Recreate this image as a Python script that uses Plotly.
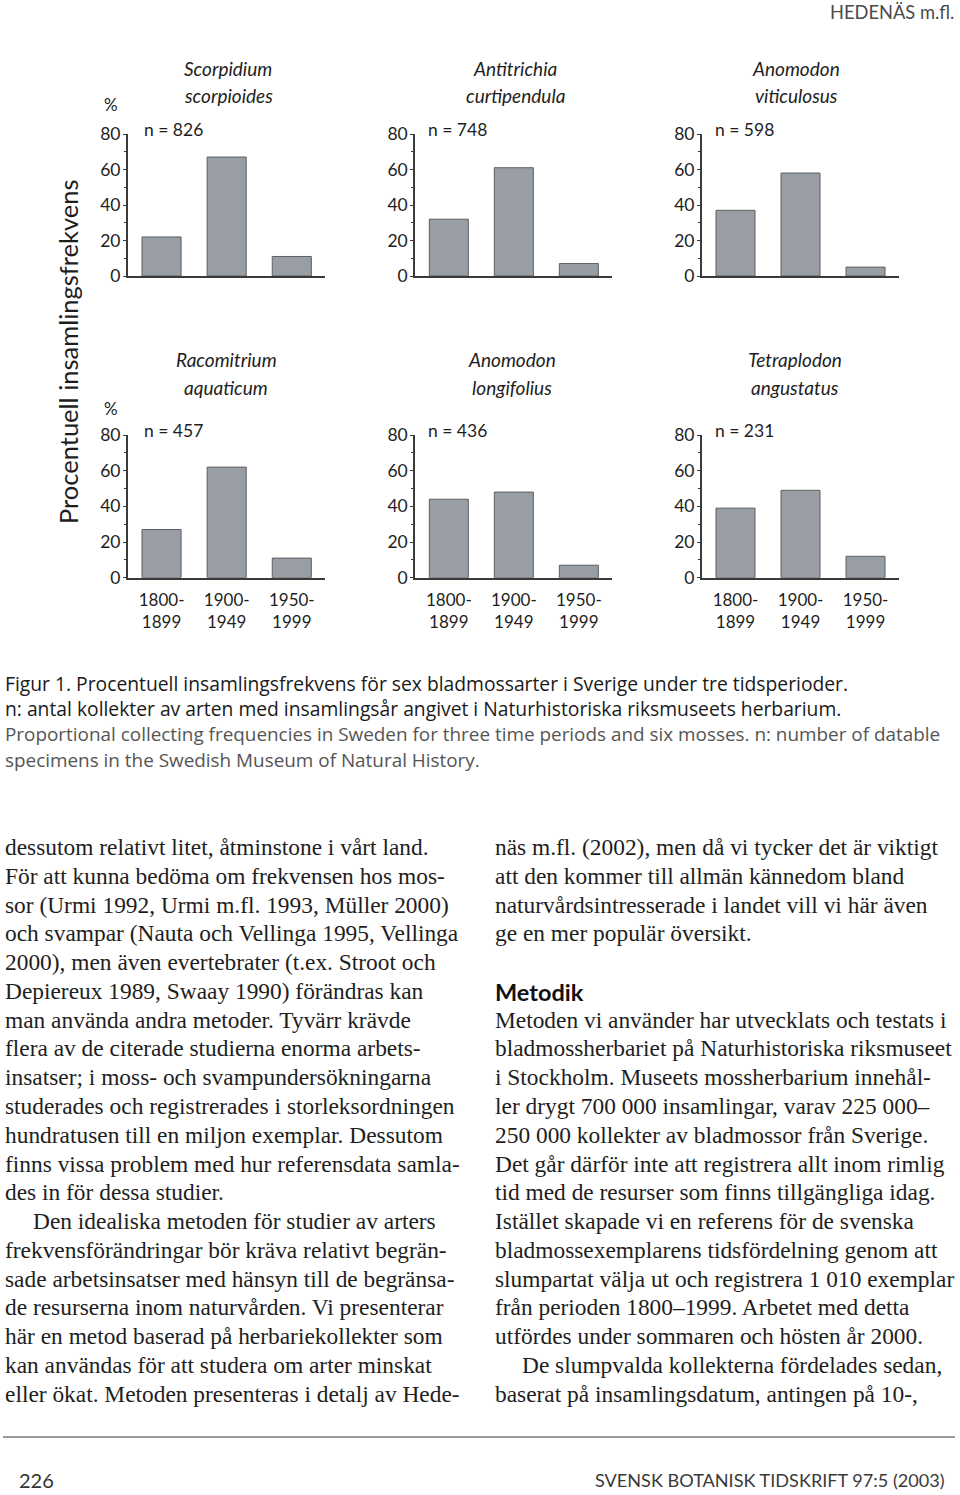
import plotly.graph_objects as go

# ---------------- data ----------------
periods = ["1800-1899", "1900-1949", "1950-1999"]
period_labels = ["1800-<br>1899", "1900-<br>1949", "1950-<br>1999"]

species_genus = ["Scorpidium", "Antitrichia", "Anomodon",
                 "Racomitrium", "Anomodon", "Tetraplodon"]
species_epithet = ["scorpioides", "curtipendula", "viticulosus",
                   "aquaticum", "longifolius", "angustatus"]
n_values = [826, 748, 598, 457, 436, 231]

pct_scorpidium = [22, 67, 11]
pct_antitrichia = [32, 61, 7]
pct_viticulosus = [37, 58, 5]
pct_racomitrium = [27, 62, 11]
pct_longifolius = [44, 48, 7]
pct_tetraplodon = [39, 49, 12]
panel_values = [pct_scorpidium, pct_antitrichia, pct_viticulosus,
                pct_racomitrium, pct_longifolius, pct_tetraplodon]

y_ticks = [0, 20, 40, 60, 80]

# ---------------- page geometry ----------------
W, H = 960, 1495
col_x = [(127.7, 325.0), (415.0, 612.0), (701.7, 898.7)]
row_y = [(276.0, 134.0), (577.7, 435.0)]  # (y of 0, y of 80) in pixels
title_cx = [[228, 515, 796], [226, 512, 795]]
title_y = [(68, 96), (359, 387)]
n_x = [143, 427, 714]
n_y = [130, 430]
pct_sign_y = [105, 408]

SANS = "Lato, 'Open Sans', sans-serif"
CAP = "'Open Sans', Lato, sans-serif"
SERIF = "'Liberation Serif', 'DejaVu Serif', serif"
INK = "#1e1e1e"


def px(x):
    return x / W


def py(y):
    return 1 - y / H


fig = go.Figure()
annotations = []


def ann(x, y, text, size, color=INK, family=SANS, xanchor="left",
        yanchor="middle", textangle=0):
    annotations.append(dict(
        x=px(x), y=py(y), xref="paper", yref="paper", text=text,
        showarrow=False, xanchor=xanchor, yanchor=yanchor,
        font=dict(size=size, color=color, family=family),
        textangle=textangle, borderpad=0))


for i, vals in enumerate(panel_values):
    r, c = divmod(i, 3)
    k = i + 1
    xa = "x" if k == 1 else f"x{k}"
    ya = "y" if k == 1 else f"y{k}"
    fig.add_trace(go.Bar(
        x=periods, y=vals, xaxis=xa, yaxis=ya, width=0.6,
        marker=dict(color="#999ea5", line=dict(color="#5c5f63", width=1)),
        showlegend=False, hoverinfo="skip"))
    x0, x1 = col_x[c]
    y0, y80 = row_y[r]
    xkey = "xaxis" if k == 1 else f"xaxis{k}"
    ykey = "yaxis" if k == 1 else f"yaxis{k}"
    fig.update_layout(**{
        xkey: dict(
            domain=[px(x0), px(x1)], anchor=ya, type="category",
            categoryorder="array", categoryarray=periods,
            range=[-0.52, 2.51], showgrid=False, zeroline=False,
            showline=True, linecolor="#3a3a3a", linewidth=1.5,
            ticks="", tickmode="array", tickvals=periods,
            ticktext=period_labels, showticklabels=(r == 1),
            ticklabelstandoff=6,
            tickfont=dict(size=17, color=INK, family=SANS),
            automargin=False, fixedrange=True),
        ykey: dict(
            domain=[py(y0), py(y80)], anchor=xa, range=[0, 80],
            showgrid=False, zeroline=False, showline=True,
            linecolor="#3a3a3a", linewidth=1.5,
            tickmode="array", tickvals=y_ticks, ticks="outside",
            ticklen=3, tickwidth=1.2, tickcolor="#3a3a3a",
            minor=dict(dtick=10, tick0=0, ticks="outside", ticklen=2,
                       tickwidth=1, tickcolor="#3a3a3a"),
            ticklabelstandoff=-1,
            tickfont=dict(size=17.5, color=INK, family=SANS),
            automargin=False, fixedrange=True),
    })
    # species title
    cx = title_cx[r][c]
    ann(cx, title_y[r][0], f"<i>{species_genus[i]}</i>", 19, xanchor="center")
    ann(cx, title_y[r][1], f"<i>{species_epithet[i]}</i>", 19, xanchor="center")
    # sample size
    ann(n_x[c], n_y[r], f"n = {n_values[i]}", 17.5)
    if c == 0:
        ann(103, pct_sign_y[r], "%", 17)

# y-axis title of the whole figure
ann(68, 352, "Procentuell insamlingsfrekvens", 25.5, textangle=-90,
    xanchor="center")

# header
ann(955, 12, "HEDENÄS m.fl.", 18.3, color="#4a4a4a", xanchor="right")

# caption
caption_dark = [
    "Figur 1. Procentuell insamlingsfrekvens för sex bladmossarter i Sverige under tre tidsperioder.",
    "n: antal kollekter av arten med insamlingsår angivet i Naturhistoriska riksmuseets herbarium.",
]
caption_light = [
    "Proportional collecting frequencies in Sweden for three time periods and six mosses. n: number of datable",
    "specimens in the Swedish Museum of Natural History.",
]
for j, line in enumerate(caption_dark):
    ann(4, 683 + 25.5 * j, line, 19.3, color="#1a1a1a", family=CAP)
for j, line in enumerate(caption_light):
    ann(4, 734 + 25.5 * j, line, 18.9, color="#555555", family=CAP)

# body text
left_col = [
    "dessutom relativt litet, åtminstone i vårt land.",
    "För att kunna bedöma om frekvensen hos mos-",
    "sor (Urmi 1992, Urmi m.fl. 1993, Müller 2000)",
    "och svampar (Nauta och Vellinga 1995, Vellinga",
    "2000), men även evertebrater (t.ex. Stroot och",
    "Depiereux 1989, Swaay 1990) förändras kan",
    "man använda andra metoder. Tyvärr krävde",
    "flera av de citerade studierna enorma arbets-",
    "insatser; i moss- och svampundersökningarna",
    "studerades och registrerades i storleksordningen",
    "hundratusen till en miljon exemplar. Dessutom",
    "finns vissa problem med hur referensdata samla-",
    "des in för dessa studier.",
    "Den idealiska metoden för studier av arters",
    "frekvensförändringar bör kräva relativt begrän-",
    "sade arbetsinsatser med hänsyn till de begränsa-",
    "de resurserna inom naturvården. Vi presenterar",
    "här en metod baserad på herbariekollekter som",
    "kan användas för att studera om arter minskat",
    "eller ökat. Metoden presenteras i detalj av Hede-",
]
left_indent = {13}
right_col = [
    "näs m.fl. (2002), men då vi tycker det är viktigt",
    "att den kommer till allmän kännedom bland",
    "naturvårdsintresserade i landet vill vi här även",
    "ge en mer populär översikt.",
    None,
    "Metodik",
    "Metoden vi använder har utvecklats och testats i",
    "bladmossherbariet på Naturhistoriska riksmuseet",
    "i Stockholm. Museets mossherbarium innehål-",
    "ler drygt 700 000 insamlingar, varav 225 000–",
    "250 000 kollekter av bladmossor från Sverige.",
    "Det går därför inte att registrera allt inom rimlig",
    "tid med de resurser som finns tillgängliga idag.",
    "Istället skapade vi en referens för de svenska",
    "bladmossexemplarens tidsfördelning genom att",
    "slumpartat välja ut och registrera 1 010 exemplar",
    "från perioden 1800–1999. Arbetet med detta",
    "utfördes under sommaren och hösten år 2000.",
    "De slumpvalda kollekterna fördelades sedan,",
    "baserat på insamlingsdatum, antingen på 10-,",
]
right_indent = {18}
LINE0, LSTEP = 847, 28.78
BODY = 23.4
for j, line in enumerate(left_col):
    x = 32 if j in left_indent else 4
    ann(x, LINE0 + LSTEP * j, line, BODY, family=SERIF)
for j, line in enumerate(right_col):
    if line is None:
        continue
    if line == "Metodik":
        ann(494, LINE0 + LSTEP * j + 1, "<b>Metodik</b>", 23.5, color="#111111")
        continue
    x = 521 if j in right_indent else 494
    ann(x, LINE0 + LSTEP * j, line, BODY, family=SERIF)

# footer
ann(18, 1480, "226", 20, color="#333333")
ann(946, 1480, "SVENSK BOTANISK TIDSKRIFT 97:5 (2003)", 18.1,
    color="#3a3a3a", xanchor="right")

shapes = [dict(type="line", xref="paper", yref="paper",
               x0=px(3), x1=px(955), y0=py(1437), y1=py(1437),
               line=dict(color="#777777", width=1.5))]

fig.update_layout(
    width=W, height=H, margin=dict(l=0, r=0, t=0, b=0, autoexpand=False),
    paper_bgcolor="white", plot_bgcolor="white",
    annotations=annotations, shapes=shapes, bargap=0.4,
    font=dict(family=SANS, color=INK),
)

fig.write_html("out.html")
